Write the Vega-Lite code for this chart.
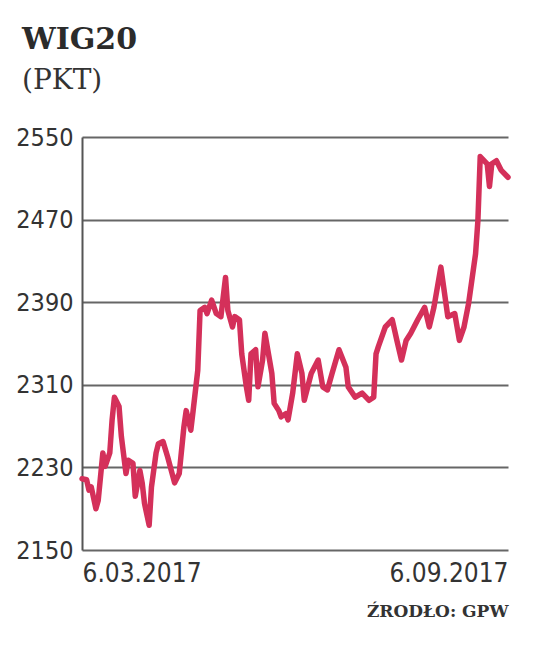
{
  "$schema": "https://vega.github.io/schema/vega-lite/v6.json",
  "width": 426,
  "height": 413,
  "autosize": {"type": "none"},
  "padding": {"left": 82, "top": 137, "right": 28, "bottom": 112},
  "background": "white",
  "title": {
    "text": "WIG20",
    "subtitle": "(PKT)",
    "anchor": "start",
    "frame": "group",
    "dx": -60,
    "offset": 30,
    "font": "DejaVu Serif",
    "fontSize": 30,
    "fontWeight": "bold",
    "color": "#2b2b2b",
    "subtitleFont": "DejaVu Serif",
    "subtitleFontSize": 28,
    "subtitleColor": "#333333",
    "subtitlePadding": 12
  },
  "config": {
    "view": {"stroke": null},
    "axis": {"labelFont": "DejaVu Sans Condensed, Roboto Condensed, Liberation Sans Narrow, Roboto", "labelColor": "#333333"}
  },
  "data": {
    "values": [
      {"date": "2017-03-06", "value": 2219},
      {"date": "2017-03-08", "value": 2218},
      {"date": "2017-03-09", "value": 2208},
      {"date": "2017-03-10", "value": 2211},
      {"date": "2017-03-12", "value": 2190},
      {"date": "2017-03-13", "value": 2198},
      {"date": "2017-03-15", "value": 2244},
      {"date": "2017-03-16", "value": 2231},
      {"date": "2017-03-18", "value": 2244},
      {"date": "2017-03-19", "value": 2276},
      {"date": "2017-03-20", "value": 2298},
      {"date": "2017-03-22", "value": 2289},
      {"date": "2017-03-23", "value": 2260},
      {"date": "2017-03-25", "value": 2224},
      {"date": "2017-03-26", "value": 2237},
      {"date": "2017-03-28", "value": 2234},
      {"date": "2017-03-29", "value": 2202},
      {"date": "2017-03-31", "value": 2227},
      {"date": "2017-04-01", "value": 2215},
      {"date": "2017-04-02", "value": 2195},
      {"date": "2017-04-04", "value": 2174},
      {"date": "2017-04-05", "value": 2211},
      {"date": "2017-04-07", "value": 2244},
      {"date": "2017-04-08", "value": 2253},
      {"date": "2017-04-10", "value": 2255},
      {"date": "2017-04-12", "value": 2240},
      {"date": "2017-04-15", "value": 2215},
      {"date": "2017-04-17", "value": 2224},
      {"date": "2017-04-19", "value": 2269},
      {"date": "2017-04-20", "value": 2285},
      {"date": "2017-04-22", "value": 2266},
      {"date": "2017-04-23", "value": 2285},
      {"date": "2017-04-25", "value": 2324},
      {"date": "2017-04-26", "value": 2382},
      {"date": "2017-04-28", "value": 2385},
      {"date": "2017-04-29", "value": 2379},
      {"date": "2017-05-01", "value": 2392},
      {"date": "2017-05-03", "value": 2379},
      {"date": "2017-05-05", "value": 2376},
      {"date": "2017-05-07", "value": 2414},
      {"date": "2017-05-08", "value": 2382},
      {"date": "2017-05-10", "value": 2366},
      {"date": "2017-05-11", "value": 2376},
      {"date": "2017-05-13", "value": 2373},
      {"date": "2017-05-14", "value": 2340},
      {"date": "2017-05-16", "value": 2308},
      {"date": "2017-05-17", "value": 2295},
      {"date": "2017-05-18", "value": 2340},
      {"date": "2017-05-20", "value": 2344},
      {"date": "2017-05-21", "value": 2308},
      {"date": "2017-05-23", "value": 2334},
      {"date": "2017-05-24", "value": 2360},
      {"date": "2017-05-26", "value": 2334},
      {"date": "2017-05-27", "value": 2321},
      {"date": "2017-05-28", "value": 2292},
      {"date": "2017-05-30", "value": 2285},
      {"date": "2017-05-31", "value": 2279},
      {"date": "2017-06-02", "value": 2282},
      {"date": "2017-06-03", "value": 2276},
      {"date": "2017-06-05", "value": 2302},
      {"date": "2017-06-07", "value": 2340},
      {"date": "2017-06-09", "value": 2321},
      {"date": "2017-06-10", "value": 2295},
      {"date": "2017-06-13", "value": 2321},
      {"date": "2017-06-16", "value": 2334},
      {"date": "2017-06-18", "value": 2308},
      {"date": "2017-06-20", "value": 2305},
      {"date": "2017-06-22", "value": 2321},
      {"date": "2017-06-25", "value": 2344},
      {"date": "2017-06-28", "value": 2327},
      {"date": "2017-06-29", "value": 2308},
      {"date": "2017-07-02", "value": 2298},
      {"date": "2017-07-05", "value": 2302},
      {"date": "2017-07-08", "value": 2295},
      {"date": "2017-07-10", "value": 2298},
      {"date": "2017-07-11", "value": 2340},
      {"date": "2017-07-12", "value": 2347},
      {"date": "2017-07-15", "value": 2366},
      {"date": "2017-07-18", "value": 2373},
      {"date": "2017-07-20", "value": 2353},
      {"date": "2017-07-22", "value": 2334},
      {"date": "2017-07-24", "value": 2353},
      {"date": "2017-07-26", "value": 2360},
      {"date": "2017-07-29", "value": 2373},
      {"date": "2017-08-01", "value": 2385},
      {"date": "2017-08-03", "value": 2366},
      {"date": "2017-08-05", "value": 2385},
      {"date": "2017-08-08", "value": 2424},
      {"date": "2017-08-10", "value": 2392},
      {"date": "2017-08-11", "value": 2376},
      {"date": "2017-08-14", "value": 2379},
      {"date": "2017-08-16", "value": 2353},
      {"date": "2017-08-18", "value": 2366},
      {"date": "2017-08-20", "value": 2389},
      {"date": "2017-08-23", "value": 2437},
      {"date": "2017-08-24", "value": 2469},
      {"date": "2017-08-25", "value": 2531},
      {"date": "2017-08-28", "value": 2524},
      {"date": "2017-08-29", "value": 2502},
      {"date": "2017-08-30", "value": 2524},
      {"date": "2017-09-01", "value": 2527},
      {"date": "2017-09-03", "value": 2518},
      {"date": "2017-09-06", "value": 2511}
    ]
  },
  "mark": {"type": "line", "color": "#d4305a", "strokeWidth": 5.5, "strokeJoin": "round", "strokeCap": "round"},
  "encoding": {
    "x": {
      "field": "date",
      "type": "temporal",
      "scale": {"type": "utc", "domain": ["2017-03-06", "2017-09-06"]},
      "axis": {
        "values": ["2017-03-06", "2017-09-06"],
        "format": "%-d.%m.%Y",
        "labelFlush": true,
        "labelFontSize": 26,
        "labelPadding": 10,
        "ticks": false,
        "domain": false,
        "grid": false,
        "title": "ŹRODŁO: GPW",
        "titleAnchor": "end",
        "titleAlign": "right",
        "titleFont": "DejaVu Serif",
        "titleFontSize": 17,
        "titleFontWeight": "bold",
        "titleColor": "#333333",
        "titlePadding": 17
      }
    },
    "y": {
      "field": "value",
      "type": "quantitative",
      "scale": {"domain": [2150, 2550], "nice": false, "zero": false},
      "axis": {
        "values": [2150, 2230, 2310, 2390, 2470, 2550],
        "format": "d",
        "labelFontSize": 25,
        "labelPadding": 9,
        "ticks": false,
        "domain": true,
        "domainColor": "#555555",
        "domainWidth": 2,
        "grid": true,
        "gridColor": "#666666",
        "gridWidth": 2,
        "title": null
      }
    }
  }
}
